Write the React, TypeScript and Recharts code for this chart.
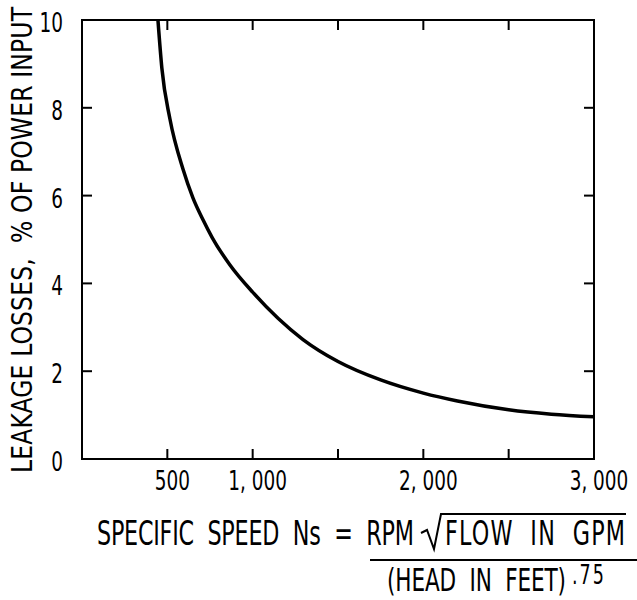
import React from 'react';
import { LineChart, Line, XAxis, YAxis } from 'recharts';

// specific speed Ns vs leakage loss (% of power input)
const speeds = [445, 468, 515, 592, 650, 709, 762, 867, 1000, 1150, 1295, 1500, 1750, 2000, 2200, 2500, 2750, 3000];
const losses = [10, 8.9, 7.75, 6.6, 5.95, 5.45, 5.05, 4.42, 3.8, 3.2, 2.72, 2.22, 1.8, 1.5, 1.32, 1.12, 1.02, 0.96];

const xTicks = [500, 1000, 1500, 2000, 2500, 3000];
const xTopTicks = [500, 1000, 1500, 2000, 2500];
const yTicks = [0, 2, 4, 6, 8, 10];
const yRightTicks = [2, 4, 6, 8];

const data = speeds.map((ns, i) => ({ ns, loss: losses[i] }));

const X_MAX = 3000;
const Y_MAX = 10;

// chart geometry: margins + axis sizes give the plot box
const MARGIN = { top: 20, right: 43, bottom: 101, left: 22 };
const Y_AXIS_W = 60;
const X_AXIS_H = 40;
const W = 637;
const H = 600;
const PLOT = {
  left: MARGIN.left + Y_AXIS_W,
  top: MARGIN.top,
  width: W - MARGIN.left - Y_AXIS_W - MARGIN.right,
  height: H - MARGIN.top - MARGIN.bottom - X_AXIS_H,
};
const px = (v: number) => PLOT.left + (v / X_MAX) * PLOT.width;
const py = (v: number) => PLOT.top + (1 - v / Y_MAX) * PLOT.height;

const FONT = '"DejaVu Sans Condensed", "DejaVu Sans", sans-serif';
const INK = '#000';

const xLabel = (v: number) => {
  if (v === 1500 || v === 2500) return '';
  return v >= 1000 ? `${v / 1000}, 000` : String(v);
};

// condensed tick text, the original lettering is tall and narrow
const CondTick = (props: any) => {
  const { x, y, payload, textAnchor, fmt, orient } = props;
  const label = fmt ? fmt(payload.value) : String(payload.value);
  if (!label) return null;
  const dy = orient === 'bottom' ? 31 : 12;
  const dx = orient === 'bottom' ? 5 : 0;
  return (
    <text
      transform={`translate(${x + dx},${y + dy}) scale(0.76,1)`}
      textAnchor={textAnchor}
      fontSize={27}
      fontFamily={FONT}
      fill={INK}
    >
      {label}
    </text>
  );
};

// tall narrow lettering: scale glyphs by sx, then adjust the spacing to fill w
const Lettering = ({ x, y, w, size, sx = 0.75, children }: any) => (
  <text
    transform={`translate(${x},${y}) scale(${sx},1)`}
    fontSize={size}
    textLength={w / sx}
    lengthAdjust="spacing"
    style={{ whiteSpace: 'pre' }}
  >
    {children}
  </text>
);

const App: React.FC = () => {
  const axisLine = { stroke: INK, strokeWidth: 2 };
  const tickLine = { stroke: INK, strokeWidth: 2 };

  return (
    <div style={{ position: 'absolute', left: 0, top: 0, width: W, height: H, background: '#fff' }}>
      <LineChart width={W} height={H} data={data} margin={MARGIN}>
        <XAxis
          dataKey="ns"
          type="number"
          domain={[0, X_MAX]}
          ticks={xTicks}
          height={X_AXIS_H}
          tickSize={-10}
          tickMargin={10}
          axisLine={axisLine}
          tickLine={tickLine}
          tick={(p: any) => <CondTick {...p} orient="bottom" fmt={xLabel} />}
          interval={0}
        />
        <YAxis
          type="number"
          domain={[0, Y_MAX]}
          ticks={yTicks}
          width={Y_AXIS_W}
          tickSize={-10}
          tickMargin={29}
          axisLine={axisLine}
          tickLine={tickLine}
          tick={(p: any) => <CondTick {...p} orient="left" />}
          interval={0}
        />
        <Line
          dataKey="loss"
          type="monotone"
          stroke={INK}
          strokeWidth={3.5}
          dot={false}
          isAnimationActive={false}
        />
      </LineChart>

      <svg
        width={W}
        height={H}
        style={{ position: 'absolute', left: 0, top: 0, pointerEvents: 'none' }}
        fontFamily={FONT}
        fill={INK}
      >
        {/* closed frame with inward ticks on top and right edges */}
        <rect x={PLOT.left} y={PLOT.top} width={PLOT.width} height={PLOT.height} fill="none" stroke={INK} strokeWidth={2} />
        {xTopTicks.map((v) => (
          <line key={`t${v}`} x1={px(v)} y1={PLOT.top} x2={px(v)} y2={PLOT.top + 10} stroke={INK} strokeWidth={2} />
        ))}
        {yRightTicks.map((v) => (
          <line key={`r${v}`} x1={px(X_MAX)} y1={py(v)} x2={px(X_MAX) - 10} y2={py(v)} stroke={INK} strokeWidth={2} />
        ))}

        <text
          transform="translate(32,240) rotate(-90) scale(0.9,1)"
          textAnchor="middle"
          fontSize={29}
          textLength={466 / 0.9}
          lengthAdjust="spacing"
          style={{ whiteSpace: 'pre' }}
        >
          LEAKAGE LOSSES,  % OF POWER INPUT
        </text>

        <Lettering x={97} y={545} w={317} size={33}>SPECIFIC  SPEED  Ns  =  RPM</Lettering>
        <path d="M421 533 L427 530 L434 549 L441 514 L626 514" fill="none" stroke={INK} strokeWidth={2} />
        <Lettering x={445} y={545} w={180} size={33}>FLOW  IN  GPM</Lettering>
        <line x1={370} y1={560} x2={W} y2={560} stroke={INK} strokeWidth={2} />
        <Lettering x={387} y={591} w={179} size={32}>(HEAD  IN  FEET)</Lettering>
        <Lettering x={572} y={584} w={32} size={26}>.75</Lettering>
      </svg>
    </div>
  );
};

export default App;
